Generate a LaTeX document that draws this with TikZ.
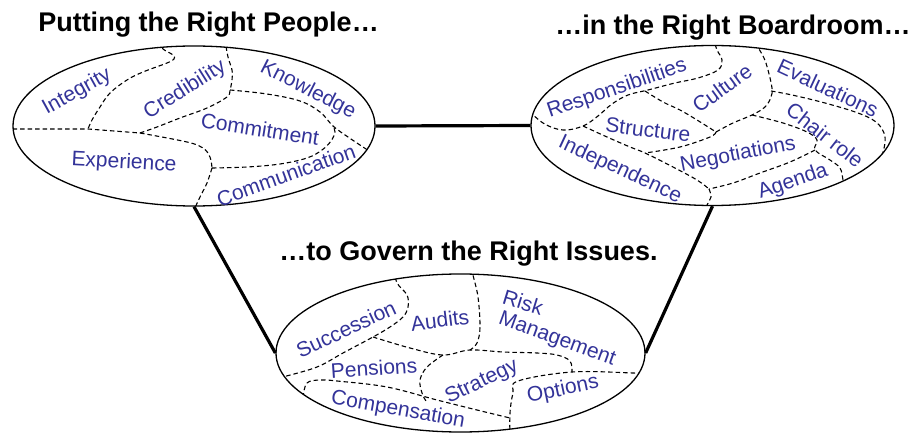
\documentclass[tikz,border=0pt]{standalone}
\usepackage{fontspec}
\setmainfont{Liberation Sans}
\usetikzlibrary{shapes.geometric}
\definecolor{labelblue}{RGB}{51,51,153}
\begin{document}
\begin{tikzpicture}[x=1pt,y=-1pt,
  oval/.style={ellipse,draw,line width=1.3pt,inner sep=0pt},
  link/.style={line width=3.2pt},
  divider/.style={line width=1.1pt,dash pattern=on 4.5pt off 3pt},
  title/.style={font=\fontsize{27}{30}\selectfont\bfseries,anchor=base,inner sep=0pt},
  topic/.style={font=\fontsize{21}{24}\selectfont,text=labelblue,inner sep=0pt}]
\useasboundingbox (0,0) rectangle (914,433);

% the three groups
\node[oval,minimum width=362pt,minimum height=160pt] (people) at (194,126) {};
\node[oval,minimum width=363pt,minimum height=160pt] (board) at (712.5,125.5) {};
\node[oval,minimum width=369pt,minimum height=158pt] (issues) at (460.5,353) {};

% links between the groups
\draw[link] (people.east) -- (board.west);
\draw[link] (people.south) -- (issues.west);
\draw[link] (board.south) -- (issues.east);

% headings
\node[title] (t1) at (208.5,32) {Putting the Right People…};
\node[title] (t2) at (733,35) {…in the Right Boardroom…};
\node[title] (t3) at (468.5,260) {…to Govern the Right Issues.};

% partitions of the first oval
\begin{scope}
\clip (people.center) ellipse [x radius=181pt, y radius=80pt];
\draw[divider] plot[smooth,tension=0.6] coordinates {(158,42) (163,49) (173,55) (174,59) (167,63) (143,72) (127,80) (110,93) (100,107) (92,120) (88,129)};
\draw[divider] (5,129) -- (88,129) -- (140,133);
\draw[divider] plot[smooth,tension=0.6] coordinates {(140,133) (187,142) (203,148) (210,157) (212,168)};
\draw[divider] plot[smooth,tension=0.6] coordinates {(212,168) (207,183) (200,197) (194,210)};
\draw[divider] plot[smooth,tension=0.6] coordinates {(140,133) (157,127) (180,118) (207,108) (227,97) (230,90) (232,80) (232,70) (228,57) (225,40)};
\draw[divider] plot[smooth,tension=0.6] coordinates {(230,90) (267,94) (300,101) (320,112) (333,126) (348,137) (363,147) (372,153)};
\draw[divider] plot[smooth,tension=0.6] coordinates {(212,168) (247,167) (280,164) (307,158) (322,150) (331,141) (335,132) (333,126)};
\end{scope}

% partitions of the second oval
\begin{scope}
\clip (board.center) ellipse [x radius=181.5pt, y radius=80pt];
\draw[divider] plot[smooth,tension=0.6] coordinates {(524,106) (543,123) (563,130) (583,126) (598,116) (612,104) (628,95) (648,90) (675,83) (698,78) (718,70) (722,60) (717,50) (714,40)};
\draw[divider] plot[smooth,tension=0.6] coordinates {(645,91) (663,102) (680,110) (697,120) (716,132)};
\draw[divider] plot[smooth,tension=0.6] coordinates {(716,132) (710,137) (680,147) (645,153)};
\draw[divider] plot[smooth,tension=0.6] coordinates {(583,126) (607,137) (630,147) (645,153) (673,167) (697,180) (709,189)};
\draw[divider] plot[smooth,tension=0.6] coordinates {(709,189) (711,197) (707,205) (705,212)};
\draw[divider] plot[smooth,tension=0.6] coordinates {(716,132) (733,123) (752,115) (765,107) (771,97) (772,88) (768,70) (764,58) (758,47) (756,40)};
\draw[divider] plot[smooth,tension=0.6] coordinates {(771,91) (792,95) (825,103) (858,113) (876,122) (884,133) (885,143) (883,152) (881,162)};
\draw[divider] plot[smooth,tension=0.6] coordinates {(752,115) (783,123) (807,132) (817,140) (815,150) (830,160) (840,168) (843,180) (844,188)};
\draw[divider] plot[smooth,tension=0.6] coordinates {(815,150) (790,162) (760,173) (733,183) (709,189)};
\end{scope}

% partitions of the third oval
\begin{scope}
\clip (issues.center) ellipse [x radius=184.5pt, y radius=79pt];
\draw[divider] plot[smooth,tension=0.6] coordinates {(394,270) (397,283) (407,295) (408,307) (403,317) (390,327) (373,337) (343,353) (317,367) (283,377) (270,381)};
\draw[divider] plot[smooth,tension=0.6] coordinates {(373,337) (410,348) (443,355) (470,350) (503,352) (537,353) (557,355) (570,361) (572,372)};
\draw[divider] plot[smooth,tension=0.6] coordinates {(472,268) (473,275) (478,297) (480,327) (477,343) (470,350)};
\draw[divider] plot[smooth,tension=0.6] coordinates {(443,355) (427,367) (420,380) (422,393) (426,401)};
\draw[divider] plot[smooth,tension=0.6] coordinates {(650,374) (633,373) (572,372) (518,381) (513,393) (510,413) (510,440)};
\draw[divider] plot[smooth,tension=0.6] coordinates {(302,405) (303,397) (307,383) (320,380) (337,381) (387,387) (437,400) (477,410) (510,418)};
\end{scope}

% topics of the first oval
\node[topic,rotate=29] (integrity) at (77,92) {Integrity};
\node[topic,rotate=32] (credibility) at (185,90) {Credibility};
\node[topic,rotate=-27] (knowledge) at (308,90) {Knowledge};
\node[topic,rotate=-9] (commitment) at (260,129) {Commitment};
\node[topic,rotate=-3] (experience) at (124,163) {Experience};
\node[topic,rotate=20] (communication) at (286,175) {Communication};

% topics of the second oval
\node[topic,rotate=19] (responsibilities) at (617,89) {Responsibilities};
\node[topic,rotate=36] (culture) at (722,88) {Culture};
\node[topic,rotate=-25] (evaluations) at (828,88) {Evaluations};
\node[topic,rotate=-7] (structure) at (648,130) {Structure};
\node[topic,rotate=-38] (chair) at (825,135) {Chair role};
\node[topic,rotate=11] (negotiations) at (738,155) {Negotiations};
\node[topic,rotate=-25] (independence) at (620,170) {Independence};
\node[topic,rotate=19] (agenda) at (793,182) {Agenda};

% topics of the third oval
\node[topic,rotate=25] (succession) at (346,329) {Succession};
\node[topic,rotate=7] (audits) at (440,320) {Audits};
\node[topic,rotate=-17] (risk) at (523,302) {Risk};
\node[topic,rotate=-20] (management) at (557,340) {Management};
\node[topic,rotate=4] (pensions) at (374,368) {Pensions};
\node[topic,rotate=26] (strategy) at (482,382) {Strategy};
\node[topic,rotate=12] (options) at (563,390) {Options};
\node[topic,rotate=-10] (compensation) at (398,410) {Compensation};
\end{tikzpicture}
\end{document}
